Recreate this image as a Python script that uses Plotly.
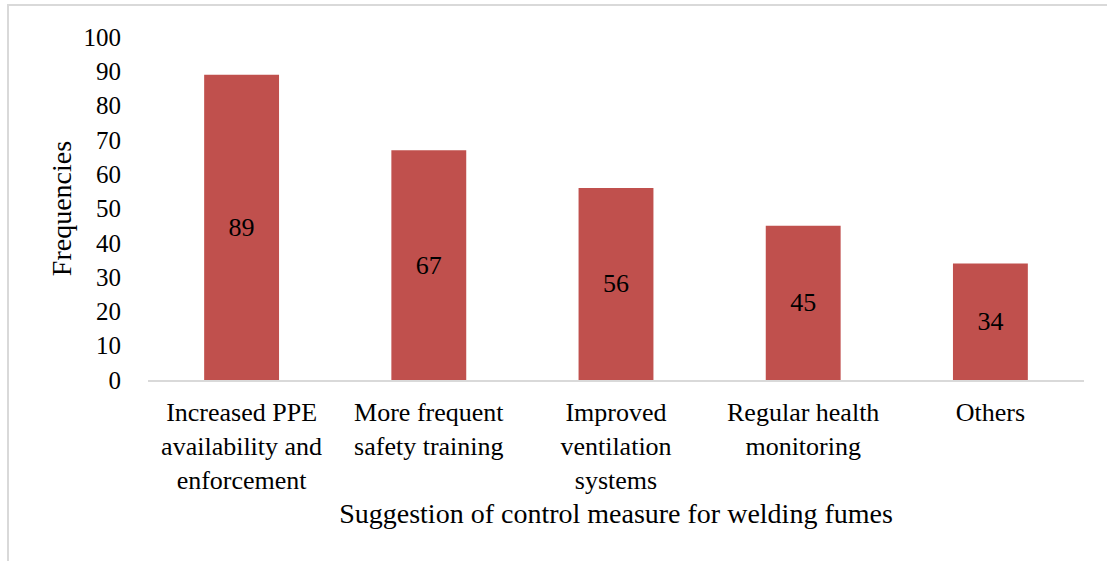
import plotly.graph_objects as go

categories = [
    "Increased PPE<br>availability and<br>enforcement",
    "More frequent<br>safety training",
    "Improved<br>ventilation<br>systems",
    "Regular health<br>monitoring",
    "Others",
]
frequencies = [89, 67, 56, 45, 34]
y_ticks = list(range(0, 101, 10))

FONT = "Liberation Serif, Times New Roman, serif"
W, H = 1107, 561
L, R, T, B = 148, 1107 - 1084, 37, 561 - 380
pw, ph = W - L - R, H - T - B

fig = go.Figure(
    go.Bar(
        x=categories,
        y=frequencies,
        marker=dict(color="#C0504D", line=dict(width=0)),
        text=[str(v) for v in frequencies],
        textposition="inside",
        insidetextanchor="middle",
        textfont=dict(family=FONT, size=26, color="black"),
        width=0.4,
    )
)

fig.update_layout(
    width=W,
    height=H,
    margin=dict(l=L, r=R, t=T, b=B),
    paper_bgcolor="white",
    plot_bgcolor="white",
    font=dict(family=FONT, size=26, color="black"),
    showlegend=False,
    xaxis=dict(
        showline=True,
        linecolor="#D9D9D9",
        linewidth=2,
        ticks="",
        ticklabelstandoff=8,
        tickfont=dict(size=26),
        title=dict(text="Suggestion of control measure for welding fumes", standoff=10, font=dict(size=28)),
    ),
    yaxis=dict(
        range=[0, 100],
        tickvals=y_ticks,
        showgrid=False,
        zeroline=False,
        showline=False,
        ticks="",
        ticklabelstandoff=26,
        tickfont=dict(size=25),
        title=dict(text="Frequencies", standoff=3, font=dict(size=28)),
    ),
)

# light grey frame around the whole chart area
x0 = (8 - L) / pw
y1 = (H - B - 5) / ph
fig.add_shape(
    type="rect",
    xref="paper", yref="paper",
    x0=x0, x1=(W + 10 - L) / pw,
    y0=-(B + 10) / ph, y1=y1,
    line=dict(color="#D9D9D9", width=2),
    fillcolor="rgba(0,0,0,0)",
    layer="below",
)

fig.write_html("out.html")
